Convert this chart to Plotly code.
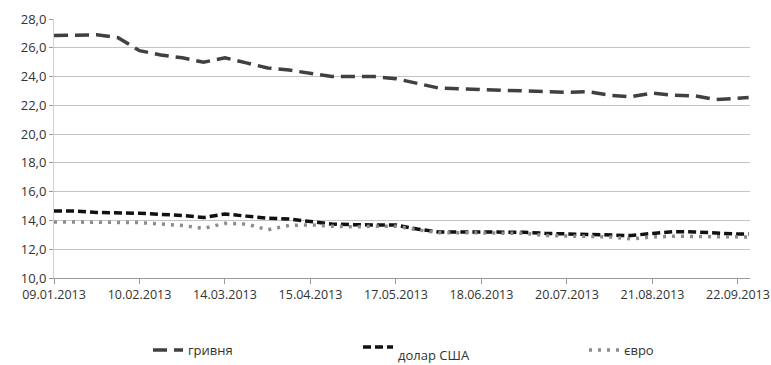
import plotly.graph_objects as go

# Observation dates (8-day step) and exchange-rate series
dates = [
    "2013-01-09", "2013-01-17", "2013-01-25", "2013-02-02", "2013-02-10",
    "2013-02-18", "2013-02-26", "2013-03-06", "2013-03-14", "2013-03-22",
    "2013-03-30", "2013-04-07", "2013-04-15", "2013-04-23", "2013-05-01",
    "2013-05-09", "2013-05-17", "2013-05-25", "2013-06-02", "2013-06-10",
    "2013-06-18", "2013-06-26", "2013-07-04", "2013-07-12", "2013-07-20",
    "2013-07-28", "2013-08-05", "2013-08-13", "2013-08-21", "2013-08-29",
    "2013-09-06", "2013-09-14", "2013-09-22", "2013-09-26",
]

hryvnia = [
    26.85, 26.9, 26.9, 26.7, 25.8, 25.5, 25.3, 25.0, 25.3, 24.95,
    24.6, 24.45, 24.2, 24.0, 24.0, 24.0, 23.85, 23.5, 23.2, 23.15,
    23.1, 23.1, 23.05, 23.0, 22.9, 22.95, 22.7, 22.6, 22.85, 22.7,
    22.65, 22.4, 22.5, 22.55,
]

usd = [
    14.65, 14.65, 14.55, 14.55, 14.5, 14.42, 14.35, 14.2, 14.45, 14.3,
    14.15, 14.1, 13.9, 13.75, 13.7, 13.68, 13.68, 13.4, 13.2, 13.2,
    13.2, 13.2, 13.18, 13.1, 13.05, 13.05, 13.0, 12.95, 13.1, 13.22,
    13.2, 13.1, 13.05, 13.05,
]

eur = [
    13.9, 13.9, 13.9, 13.9, 13.85, 13.75, 13.65, 13.45, 13.8, 13.75,
    13.35, 13.65, 13.7, 13.6, 13.55, 13.6, 13.6, 13.35, 13.15, 13.15,
    13.15, 13.12, 13.1, 12.95, 12.9, 12.88, 12.85, 12.72, 12.85, 12.9,
    12.9, 12.85, 12.85, 12.85,
]

tick_dates = [
    "2013-01-09", "2013-02-10", "2013-03-14", "2013-04-15", "2013-05-17",
    "2013-06-18", "2013-07-20", "2013-08-21", "2013-09-22",
]
tick_labels = [
    "09.01.2013", "10.02.2013", "14.03.2013", "15.04.2013", "17.05.2013",
    "18.06.2013", "20.07.2013", "21.08.2013", "22.09.2013",
]

series_names = ["гривня", "долар США", "євро"]

fig = go.Figure()
fig.add_trace(go.Scatter(
    x=dates, y=hryvnia, mode="lines", name=series_names[0],
    line=dict(color="#404040", width=3.5, dash="14px,7px"),
    legend="legend",
))
fig.add_trace(go.Scatter(
    x=dates, y=usd, mode="lines", name="<br>" + series_names[1],
    line=dict(color="#111111", width=3.5, dash="8px,4px"),
    legend="legend2",
))
fig.add_trace(go.Scatter(
    x=dates, y=eur, mode="lines", name=series_names[2],
    line=dict(color="#8c8c8c", width=3.5, dash="3px,6px"),
    legend="legend3",
))

font_family = "Open Sans, Noto Sans, sans-serif"


def legend_box(x_px, y_px):
    # one legend per series, placed in pixel terms of the whole page
    return dict(
        xref="container", yref="container",
        x=x_px / 771, y=1 - y_px / 365,
        xanchor="left", yanchor="middle",
        font=dict(size=13, color="#333333"),
        bgcolor="rgba(0,0,0,0)",
        itemwidth=30,
    )


fig.update_layout(
    width=771, height=365,
    margin=dict(l=54, r=21, t=19, b=87, autoexpand=False),
    paper_bgcolor="white", plot_bgcolor="white",
    separators=",.",
    font=dict(family=font_family, size=12, color="#333333"),
    showlegend=True,
    legend=legend_box(148, 350),
    legend2=legend_box(358, 347),
    legend3=legend_box(584, 350),
    xaxis=dict(
        type="date",
        range=["2013-01-09", "2013-09-26 12:00"],
        tickvals=tick_dates, ticktext=tick_labels,
        tickfont=dict(size=12.5, color="#333333"),
        showgrid=False, zeroline=False, automargin=False,
        showline=True, linecolor="#9a9a9a", linewidth=1,
        ticks="outside", ticklen=5, tickcolor="#9a9a9a",
    ),
    yaxis=dict(
        range=[10, 28], dtick=2, tickformat=".1f",
        tickfont=dict(size=13, color="#333333"),
        showgrid=True, gridcolor="#c4c4c4", gridwidth=1,
        zeroline=False, automargin=False,
        showline=True, linecolor="#d0d0d0", linewidth=1,
        ticks="outside", ticklen=4, tickcolor="#9a9a9a",
    ),
)

fig.write_html("out.html")
